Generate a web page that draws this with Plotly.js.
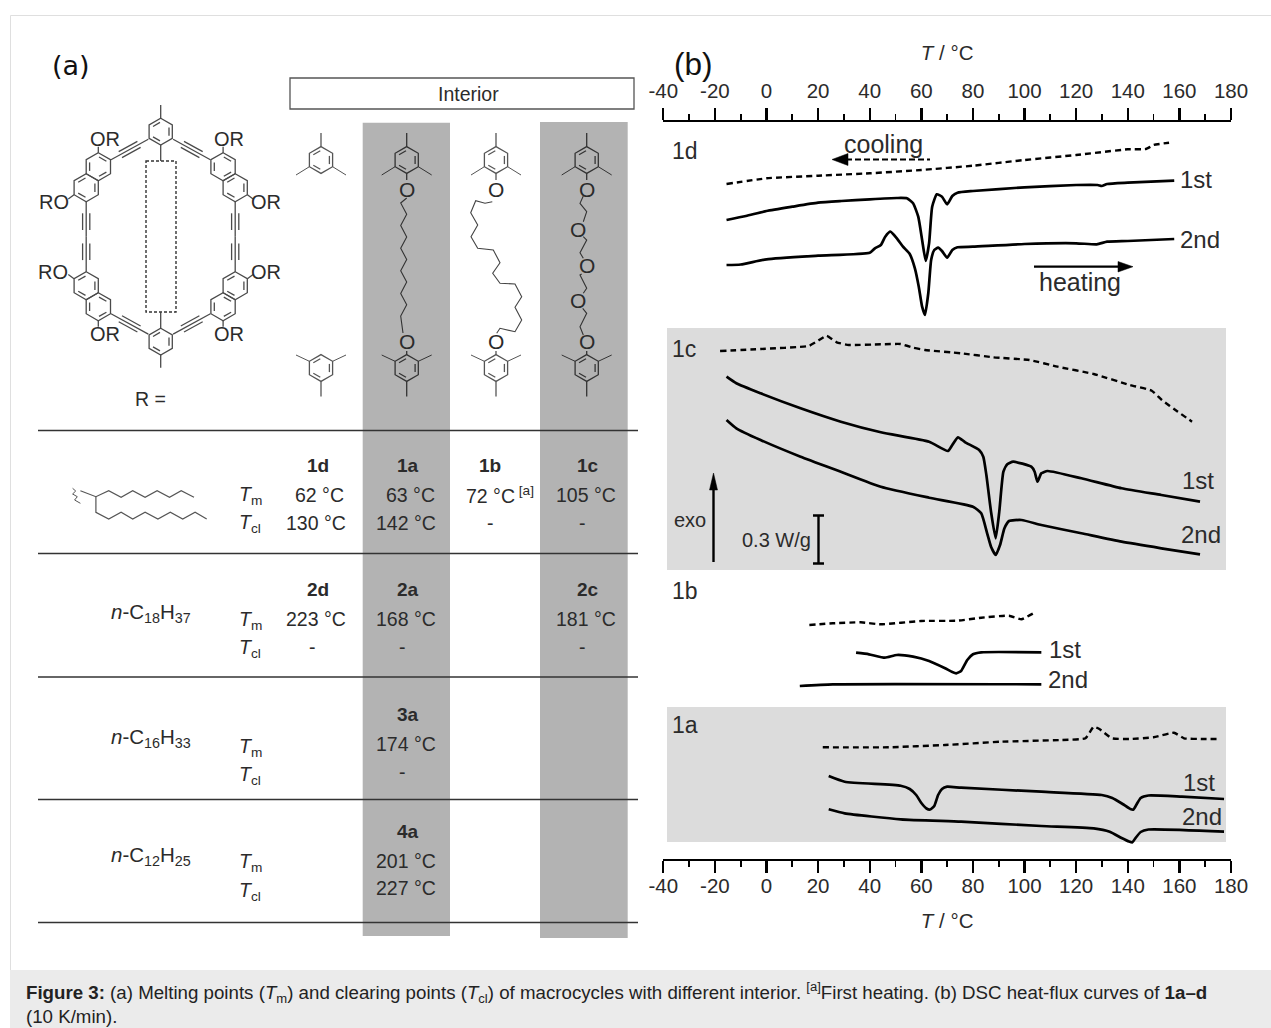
<!DOCTYPE html>
<html><head><meta charset="utf-8">
<script src="https://cdn.plot.ly/plotly-3.0.1.min.js"></script>
<style>html,body{margin:0;padding:0;background:#fff}#g{width:1271px;height:1028px}</style>
</head><body><div id="g"></div>
<script>
// ---------- DSC curves: temperature (°C) and stacked heat-flux position (page-height units, downward = endo)
const T_1d_cool=[-15.5,0,20,40,60,80,100,120,140,147,150,156];
const H_1d_cool=[184,178.3,175.7,173.3,170,165.7,160,155,149.3,149,145,142.7];
const T_1d_1st=[-15.5,-8,0,10,20,29,40,50.5,54.4,56.8,58.8,60.3,61.7,63,64.2,66,68,70,72,74,80,100,120,128.3,129.9,132,140,158];
const H_1d_1st=[220,216,211,206.7,202.7,201,199.3,198,198.3,203.3,216.7,240,261,243.3,206.7,194.3,196.7,204.3,196,192.7,191,187.3,185,185,186,184,182.7,180.7];
const T_1d_2nd=[-15.5,-10,0,20,40,42,44.3,46,48,50.5,52.9,55.5,57.5,59,60.3,61.4,62.7,63.8,65,66.5,68,70,72,74,80,100,120,128,132,140,158];
const H_1d_2nd=[265,264.5,259.3,255.7,252.7,248.3,245,236.7,231.7,238.3,246.7,254,268.3,286.7,306.7,315,293,260,250,247.7,251,257.7,250,247.3,246.7,244,243.3,244.3,241.7,241,239];
const T_1c_cool=[-18,-2.3,16.3,19.4,23.3,27.2,31.9,44.3,52,56.8,61.4,75.4,87.9,101.9,112.8,126.8,140.8,149.3,153.2,159.4,164.9];
const H_1c_cool=[351,349,346,341.7,335.7,342.3,345,344.3,344,347.7,350,353.3,357.3,360,366.7,374,385,390.7,400,411.7,421.7];
const T_1c_1st=[-15.5,-11.7,-2.3,13.2,28.8,44.3,63,70.3,72,74.2,77,82.4,84,85.2,87,88.8,90.2,91.8,93.3,95.6,102.6,103.9,105,106.5,108.9,122,137.6,153,168];
const H_1c_1st=[376.7,383.3,393.3,408.3,421.7,432.3,441.7,451,445,437.3,442.3,450,456.7,475,511.7,538.3,511.7,471.7,464.3,461.7,466.7,471.7,481.7,473.3,471,478.3,488.3,495,501.7];
const T_1c_2nd=[-15.5,-11.7,-2.3,13.2,28.8,44.3,63,80,83.2,85.5,87,88.8,90.5,92.2,94,98.8,106.5,122,137.6,153,168];
const H_1c_2nd=[420,428.3,440,456.7,471.7,486.7,497.7,506.7,513.3,533.3,546.7,555,545,528.3,521,520,525,533.3,541.7,548.3,554.3];
const T_1b_cool=[16.6,25.7,36.5,44.3,59.9,73.9,83.2,94,98.8,103.4];
const H_1b_cool=[625,623.3,622.3,624.3,621,620.7,617.7,615.7,619.3,613.3];
const T_1b_1st=[34.7,39.7,45.9,50.5,56.8,63,69.2,72,73.5,75.4,77.8,80,83.2,106.5];
const H_1b_1st=[652.7,654.3,657.7,655,656.7,661,668.3,672,673.3,671,660,654.3,652.3,652.3];
const T_1b_2nd=[12.9,25.7,106.5];
const H_1b_2nd=[686,684.3,684.3];
const T_1a_cool=[21.8,47.4,69.2,91,114.3,123.6,126.8,129,133.8,140.8,150,157.9,161.8,168.8,175.8];
const H_1a_cool=[747.3,747.3,745,741.7,740,738.3,726.7,729,738.3,739,737.3,732.7,738.3,739,739];
const T_1a_1st=[24.1,30.3,52,55.5,58,60,62,63.4,65,66.5,68,70,75.4,106.5,129.9,134,138,141,142.2,143.5,145,148,161,177.3];
const H_1a_1st=[776,781.7,785.7,789,795,803,808.5,809.5,806,795,789,786.7,787.7,791.7,795,798,804,809,809.5,804,798,795.5,796.7,799];
const T_1a_2nd=[24.1,30.3,52,75.4,106.5,126.8,133,137.6,140.5,141.8,143,145,148,177.3];
const H_1a_2nd=[809.3,813.3,819.3,821.7,826,828.3,831.7,838,841.5,842.3,838,832,829.5,831.7];
// ---------- axis ticks
const tickVals=[-40,-20,0,20,40,60,80,100,120,140,160,180];
const tickText=['-40','-20','0','20','40','60','80','100','120','140','160','180'];
// ---------- table
const compounds=['1d','1a','1b','1c','2d','2a','2c','3a','4a'];
const meltingPts=['62 °C','63 °C','72 °C','105 °C','223 °C','168 °C','181 °C','174 °C','201 °C'];
const clearingPts=['130 °C','142 °C','-','-','-','-','-','-','227 °C'];
const sideChains=['<i>n</i>-C<sub>18</sub>H<sub>37</sub>','<i>n</i>-C<sub>16</sub>H<sub>33</sub>','<i>n</i>-C<sub>12</sub>H<sub>25</sub>'];

const F='"Liberation Sans", Arial, sans-serif', INK='#2b2b2b', STR='#4a4a4a';
const W=1271,H=1028;
const ann=[], shp=[];
function txt(x,y,t,size,opt){ann.push(Object.assign({xref:'x',yref:'y',x:x,y:y,text:t,showarrow:false,xanchor:'center',yanchor:'middle',font:{family:F,size:size,color:INK}},opt||{}));}
function rect(x0,y0,x1,y1,fill,line,layer){shp.push({type:'rect',xref:'x',yref:'y',x0,y0,x1,y1,fillcolor:fill,line:line||{width:0},layer:layer||'below'});}
function path(d,c,w,extra){shp.push(Object.assign({type:'path',xref:'x',yref:'y',path:d,line:{color:c||STR,width:w||1.3},layer:'below'},extra||{}));}
function poly(p,close){return 'M'+p.map(q=>q[0].toFixed(1)+','+q[1].toFixed(1)).join(' L')+(close?' Z':'');}

// page furniture
path('M10.5,970 L10.5,15.5 L1271,15.5','#dfdfdf',1);
rect(10,970,W,H,'#ebebeb');
// highlighted DSC panels & interior columns
rect(667,328,1226,570,'#dcdcdc');
rect(667,707,1226,842,'#dcdcdc');
rect(362.7,122.7,450,936,'#b3b3b3');
rect(540,122,627.7,938,'#b3b3b3');
rect(290,78,634,109,'#ffffff',{color:'#555',width:1.3});
txt(468,94,'Interior',19.5);
[430.5,553.5,677,799.5,922.5].forEach(y=>path('M38,'+y+' L638,'+y,'#333',1.6));

// chemistry helpers
function hex(cx,cy,r){const o=[];for(let i=0;i<6;i++){const a=(-90+60*i)*Math.PI/180;o.push([cx+r*Math.cos(a),cy+r*Math.sin(a)]);}return o;}
function ring(cx,cy,r,start,c){const v=hex(cx,cy,r),iv=hex(cx,cy,r*0.72);path(poly(v,true),c);
 for(let i=start;i<6;i+=2){const a=iv[i],b=iv[(i+1)%6];const ax=a[0]+(b[0]-a[0])*0.08,ay=a[1]+(b[1]-a[1])*0.08,bx=b[0]-(b[0]-a[0])*0.08,by=b[1]-(b[1]-a[1])*0.08;path(poly([[ax,ay],[bx,by]]),c);}}
function triple(a,b,f0,f1,off,c){path(poly([a,b]),c);const dx=b[0]-a[0],dy=b[1]-a[1],l=Math.hypot(dx,dy),nx=-dy/l*off,ny=dx/l*off;
 [1,-1].forEach(s=>path(poly([[a[0]+dx*f0+s*nx,a[1]+dy*f0+s*ny],[a[0]+dx*f1+s*nx,a[1]+dy*f1+s*ny]]),c));}
// interior motif rings
const colX=[321,406.7,496,586.7], topY=160, botY=368, rr=13.4;
colX.forEach((x,k)=>{const c=k%2?'#333':'#555';
 ring(x,topY,rr,1,c);ring(x,botY,rr,1,c);
 path(poly([[x,topY-rr],[x,topY-rr-13.5]]),c);path(poly([[x,botY+rr],[x,botY+rr+15]]),c);
 [1,-1].forEach(s=>{path(poly([[x+s*11.6,topY+6.7],[x+s*25,topY+15]]),c,1);path(poly([[x+s*11.6,botY-6.7],[x+s*25,botY-13]]),c,1);});
 if(k>0){path(poly([[x,topY+rr],[x,180]]),c);path(poly([[x,botY-rr],[x,351]]),c);txt(x,189,'O',21);txt(x,341.5,'O',21);}
});
// straight chain 1a
{const p=[[406.7,198]];let left=true;for(let y=203;y<=327;y+=11.3){p.push([left?400.7:406.7,y]);left=!left;}p.push([403,333]);path(poly(p),'#333',1.1);}
const Zb=q=>[285+q[0]/3,70+q[1]/3];
// folded chain 1b
path(poly([[622,395],[600,400],[572,392],[557,428],[578,465],[558,500],[578,535],[625,540],[645,578],[623,610],[645,640],[690,642],[710,680],[690,712],[710,750],[690,785],[645,775],[635,790]].map(Zb)),'#444',1.1);
// ethylene-glycol chain 1c
[[[895,378],[885,400],[905,425],[895,455]],[[895,500],[905,510],[885,548],[895,565]],[[890,612],[885,615],[905,655],[895,670]],[[893,715],[905,730],[885,770],[895,795]]].forEach(s=>path(poly(s.map(Zb)),'#333',1.1));
[[880,478],[905,585],[880,692]].map(Zb).forEach(q=>txt(q[0],q[1],'O',21));

// macrocycle
const Zm=q=>[30+q[0]/3,50+q[1]/3], mx=160.7, my=236.7;
[[1,1],[-1,1],[1,-1],[-1,-1]].forEach(([sx,sy])=>{
 const M=q=>{const p=Zm(q);return [mx+sx*(p[0]-mx),my+sy*(p[1]-my)];};
 const cRA=M([205,350]),cRB=M([168.6,413]);
 ring(cRA[0],cRA[1],14,0);ring(cRB[0],cRB[1],14,1);
 path(poly([M([205,308]),M([205,290])]));
 path(poly([M([132,434]),M([115,447])]));
 triple(M([355,268]),M([243,329]),0.25,0.75,3.4*sx*sy);
 path(poly([M([168.6,455]),M([168.6,560])]));
 [1,-1].forEach(s=>path(poly([[M([168.6,490])[0]+s*3.6,M([168.6,490])[1]],[M([168.6,540])[0]+s*3.6,M([168.6,540])[1]]])));
});
[[392,245,1],[392,875,1]].forEach(q=>{const p=Zm(q);ring(p[0],p[1],13.4,1);});
path(poly([Zm([392,207]),Zm([392,165])]));path(poly([Zm([392,285]),Zm([392,333])]));
path(poly([Zm([392,835]),Zm([392,787])]));path(poly([Zm([392,913]),Zm([392,953])]));
rect(146,161,176,312,'rgba(0,0,0,0)',{color:'#333',width:1.4,dash:'3px,2px'});
[[105,139,'OR'],[229,139,'OR'],[54,202,'RO'],[266,202,'OR'],[53,272,'RO'],[266,272,'OR'],[105,334,'OR'],[229,334,'OR']].forEach(a=>txt(a[0],a[1],a[2],20));
txt(150,398.5,'R =',19.5);
txt(71,65,'(a)',28,{font:{family:'"DejaVu Sans"',size:27,color:'#111'}});
txt(693,64,'(b)',31.5,{font:{family:F,size:31.5,color:'#111'}});

// branched side chain
const Zc=q=>[30+q[0]/2.58,425+q[1]/3];
path(poly([[130,197],[170,215],[203,197],[235,217],[265,197],[297,217],[328,197],[360,217],[390,197],[423,217]].map(Zc)),'#555',1.2);
path(poly([[170,215],[170,262],[203,282],[235,262],[265,282],[297,262],[330,282],[362,262],[394,282],[426,262],[456,282]].map(Zc)),'#555',1.2);
path(poly([[110,190],[118,198],[110,207],[122,215],[115,225],[130,235]].map(Zc)),'#555',1);

// table text
const headX={d:318,a:408,b:490,c:588}, dataX={d:316,a:406,b:490,c:586}, dashX={d:312,a:402,b:490,c:582};
const rowY={'1':[466,495,523],'2':[590,619,647],'3':[715,744,772],'4':[832,861,888]};
compounds.forEach((n,i)=>{const r=rowY[n[0]],k=n[1];
 txt(headX[k],r[0]-0.5,'<b>'+n+'</b>',19);
 const t=meltingPts[i];
 const mX=n==='1d'?319:n==='1a'?410:n==='1b'?500:dataX[k];
 txt(mX,r[1]-0.5,n==='1b'?t+'<sup> [a]</sup>':t,19.5);
 txt(clearingPts[i]==='-'?dashX[k]:dataX[k],r[2]-0.5,clearingPts[i],19.5);
});
[[495,523],[620,648],[747,775],[862,891]].forEach(r=>{txt(250,r[0],'<i>T</i><sub>m</sub>',19.5);txt(249.5,r[1],'<i>T</i><sub>cl</sub>',19.5);});
[613,738,856].forEach((y,i)=>txt(151,y-0.5,sideChains[i],20.5));

// DSC panel labels and legends
[[685,151,'1d'],[684,349,'1c'],[685,591,'1b'],[685,725,'1a']].forEach(a=>txt(a[0],a[1],a[2],23));
[[1196,179,'1st'],[1200,239,'2nd'],[1198,480,'1st'],[1201,534,'2nd'],[1065,649,'1st'],[1068,679,'2nd'],[1199,782,'1st'],[1202,816,'2nd']].forEach(a=>txt(a[0],a[1],a[2],24));
txt(883,144,'cooling',25);txt(1080,282,'heating',25);
txt(690,520,'exo',20);txt(776,540,'0.3 W/g',20);
function head(d){shp.push({type:'path',xref:'x',yref:'y',path:d,fillcolor:'#000',line:{color:'#000',width:0.5},layer:'above'});}
shp.push({type:'line',xref:'x',yref:'y',x0:846,x1:930,y0:159.5,y1:159.5,line:{color:'#000',width:2.2,dash:'6px,3px'},layer:'above'});
head('M832,159.5 L848,153.5 L848,165.5 Z');
shp.push({type:'line',xref:'x',yref:'y',x0:1034,x1:1120,y0:266.7,y1:266.7,line:{color:'#000',width:2.2},layer:'above'});
head('M1133,266.7 L1118,261.5 L1118,272 Z');
shp.push({type:'line',xref:'x',yref:'y',x0:713.5,x1:713.5,y0:562,y1:485,line:{color:'#000',width:2.4},layer:'above'});
head('M713.5,473 L709.5,490 L717.5,490 Z');
path('M818.5,515.5 L818.5,563.5 M813,515.5 L824,515.5 M813,563.5 L824,563.5','#000',2.4);

// caption
const CF={family:F,size:18.7,color:'#222'};
ann.push({xref:'x',yref:'y',x:24,y:992.5,xanchor:'left',yanchor:'middle',showarrow:false,font:CF,align:'left',
 text:'<b>Figure 3:</b> (a) Melting points (<i>T</i><sub>m</sub>) and clearing points (<i>T</i><sub>cl</sub>) of macrocycles with different interior. <sup>[a]</sup>First heating. (b) DSC heat-flux curves of <b>1a–d</b>'});
ann.push({xref:'x',yref:'y',x:24,y:1016.5,xanchor:'left',yanchor:'middle',showarrow:false,font:CF,align:'left',text:'(10 K/min).'});

const solid={color:'#000',width:2.7,shape:'spline',smoothing:0.5};
const dashd={color:'#000',width:2.4,dash:'6px,4px',shape:'spline',smoothing:0.4};
function cur(x,y,l,name){return {type:'scatter',mode:'lines',x:x,y:y,line:l,name:name,xaxis:'x2',yaxis:'y',hoverinfo:'skip'};}
const traces=[
 {type:'scatter',mode:'lines',x:[null],y:[null],xaxis:'x',yaxis:'y',hoverinfo:'skip'},
 cur(T_1d_cool,H_1d_cool,dashd,'1d cooling'),cur(T_1d_1st,H_1d_1st,solid,'1d 1st'),cur(T_1d_2nd,H_1d_2nd,solid,'1d 2nd'),
 cur(T_1c_cool,H_1c_cool,dashd,'1c cooling'),cur(T_1c_1st,H_1c_1st,solid,'1c 1st'),cur(T_1c_2nd,H_1c_2nd,solid,'1c 2nd'),
 cur(T_1b_cool,H_1b_cool,dashd,'1b cooling'),cur(T_1b_1st,H_1b_1st,solid,'1b 1st'),cur(T_1b_2nd,H_1b_2nd,solid,'1b 2nd'),
 cur(T_1a_cool,H_1a_cool,dashd,'1a cooling'),cur(T_1a_1st,H_1a_1st,solid,'1a 1st'),cur(T_1a_2nd,H_1a_2nd,solid,'1a 2nd'),
 {type:'scatter',mode:'lines',x:[null],y:[null],xaxis:'x3',yaxis:'y',hoverinfo:'skip'}
];
const xa=(side,pos,so,ts)=>({range:[-40,180],domain:[663.3/W,1231/W],anchor:'free',position:pos,side:side,
 showline:true,linecolor:'#000',linewidth:2.4,ticks:'outside',ticklen:12,tickwidth:2.4,tickcolor:'#000',tickmode:'array',tickvals:tickVals,ticktext:tickText,
 minor:{dtick:10,tick0:-40,ticks:'outside',ticklen:6,tickwidth:1.8,tickcolor:'#000',showgrid:false},
 showgrid:false,zeroline:false,tickfont:{family:F,size:20.5,color:INK},ticklabelstandoff:so,
 title:{text:'<i>T</i> / °C',font:{family:F,size:20.5,color:INK},standoff:ts}});
const layout={width:W,height:H,margin:{l:0,r:0,t:0,b:0},paper_bgcolor:'#fff',plot_bgcolor:'rgba(0,0,0,0)',showlegend:false,hovermode:false,
 xaxis:{range:[0,W],domain:[0,1],anchor:'y',visible:false,fixedrange:true},
 xaxis2:xa('bottom',1-860/H,-5,17),xaxis3:xa('top',1-120.7/H,2,11),
 yaxis:{range:[H,0],domain:[0,1],visible:false,fixedrange:true},
 shapes:shp,annotations:ann};
Plotly.newPlot('g',traces,layout,{displayModeBar:false,staticPlot:true});
</script></body></html>
